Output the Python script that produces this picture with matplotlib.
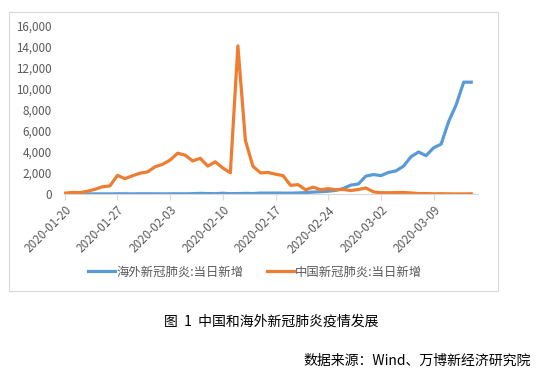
import numpy as np
import pandas as pd
import matplotlib
matplotlib.use('Agg')
import matplotlib.pyplot as plt
import matplotlib.dates as mdates
from matplotlib.patches import Rectangle

plt.rcParams['font.family'] = ['Noto Sans CJK SC', 'DejaVu Sans']
plt.rcParams['axes.unicode_minus'] = False

# 2020-01-20 ~ 2020-03-14 每日新增
start_date = '2020-01-20'
n_days = 55
overseas = [0, 0, 5, 5, 10, 10, 10, 20, 20, 10,
            20, 20, 20, 10, 20, 20, 20, 30, 60, 40,
            30, 70, 30, 40, 60, 40, 90, 80, 90, 80,
            80, 100, 130, 180, 220, 260, 350, 520, 850, 950,
            1700, 1850, 1750, 2050, 2200, 2650, 3550, 4000, 3650, 4400,
            4750, 6900, 8500, 10650, 10650]
china = [77, 149, 131, 259, 444, 688, 769, 1771, 1459, 1737,
         1982, 2102, 2590, 2829, 3235, 3887, 3694, 3143, 3399, 2656,
         3062, 2478, 2015, 14108, 5090, 2641, 2009, 2048, 1886, 1749,
         820, 889, 397, 648, 409, 508, 406, 433, 327, 427,
         573, 202, 125, 119, 139, 143, 99, 44, 40, 19,
         24, 15, 8, 11, 20]
tick_dates = ['2020-01-20', '2020-01-27', '2020-02-03', '2020-02-10',
              '2020-02-17', '2020-02-24', '2020-03-02', '2020-03-09']
y_ticks = [0, 2000, 4000, 6000, 8000, 10000, 12000, 14000, 16000]

dates = pd.date_range(start_date, periods=n_days, freq='D')

fig = plt.figure(figsize=(5.4, 3.78), dpi=100)
ax = fig.add_axes([0.1185, 0.4868, 0.7667, 0.4444])

ax.plot(dates, overseas, color='#5B9BD5', lw=2.3, label='海外新冠肺炎:当日新增',
        solid_joinstyle='round')
ax.plot(dates, china, color='#ED7D31', lw=2.3, label='中国新冠肺炎:当日新增',
        solid_joinstyle='round')

d0 = mdates.date2num(pd.Timestamp(start_date))
ax.set_xlim(d0 - 0.1, d0 + 54.9)
ax.set_ylim(0, 16000)
ax.set_yticks(y_ticks)
ax.set_yticklabels(['{:,}'.format(v) for v in y_ticks])
ax.set_xticks([mdates.date2num(pd.Timestamp(t)) for t in tick_dates])
ax.set_xticklabels(tick_dates, rotation=45, ha='right', rotation_mode='anchor')

for s in ['top', 'right', 'left']:
    ax.spines[s].set_visible(False)
ax.spines['bottom'].set_color('#d9d9d9')
ax.spines['bottom'].set_linewidth(0.8)
ax.tick_params(axis='y', length=0, pad=9, labelsize=8.4, labelcolor='#595959')
ax.tick_params(axis='x', length=4, width=0.8, color='#d9d9d9', pad=3,
               labelsize=8.4, labelcolor='#595959')

ax.legend(loc='center', bbox_to_anchor=(0.472, 0.28), bbox_transform=fig.transFigure,
          ncol=2, frameon=False, fontsize=8.9, handlelength=2.2, columnspacing=1.9,
          handletextpad=0.1, labelcolor='#595959')

# 图表外框
fig.patches.append(Rectangle((0.0167, 0.230), 0.9056, 0.738, transform=fig.transFigure,
                             fill=False, edgecolor='#d9d9d9', lw=0.8))

fig.text(0.503, 0.148, '图  1  中国和海外新冠肺炎疫情发展', ha='center', va='center',
         fontsize=10, color='#000000')
fig.text(0.983, 0.045, '数据来源：Wind、万博新经济研究院', ha='right', va='center',
         fontsize=10, color='#000000')

fig.savefig('out.png', dpi=100)
